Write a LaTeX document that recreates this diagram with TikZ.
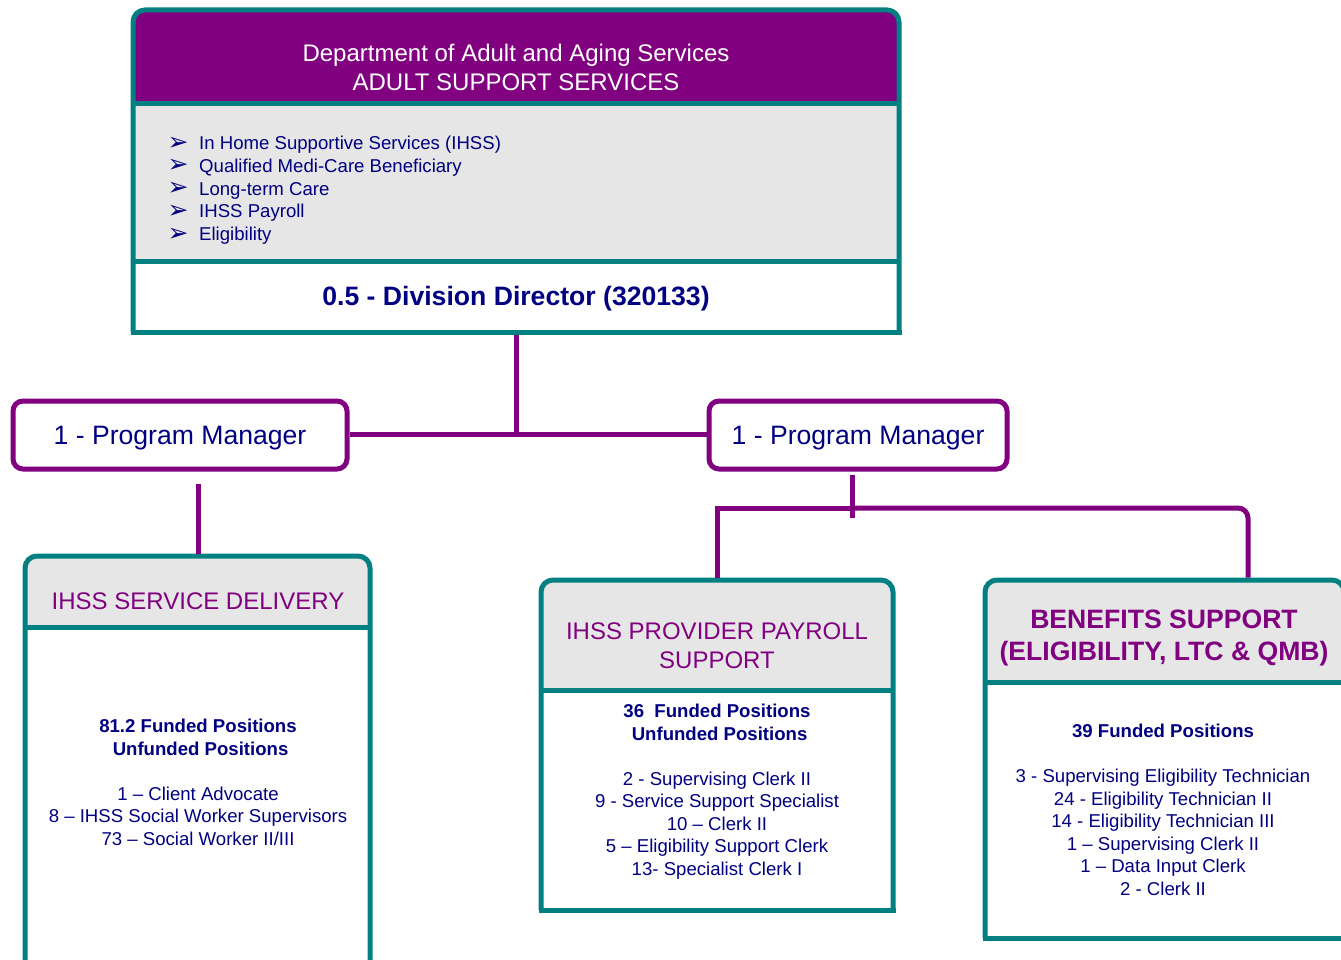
\documentclass[tikz,border=0pt]{standalone}
\usepackage{fontspec}
\setmainfont{Liberation Sans}
\newfontfamily\symfont{DejaVu Sans}
\usetikzlibrary{fit}
\definecolor{purp}{RGB}{128,0,128}
\definecolor{tealc}{RGB}{0,128,128}
\definecolor{grayf}{RGB}{230,230,230}
\definecolor{navy}{RGB}{0,0,128}
\begin{document}
\begin{tikzpicture}[x=1pt,y=-1pt,
  frame/.style={draw=tealc,line width=5pt},
  conn/.style={draw=purp,line width=5pt},
  anchorbox/.style={inner sep=0pt,outer sep=0pt,draw=none},
  body/.style={text=navy,font=\fontsize{18.6}{22.5}\selectfont,anchor=base,inner sep=0pt},
  hdr/.style={text=purp,font=\fontsize{24}{29}\selectfont,anchor=base,inner sep=0pt},
  hdrb/.style={text=purp,font=\fontsize{26.6}{32}\selectfont\bfseries,anchor=base,inner sep=0pt},
  toph/.style={text=white,font=\fontsize{24}{29}\selectfont,anchor=base,inner sep=0pt},
  arrowb/.style={text=navy,font=\symfont\fontsize{25}{28}\selectfont,anchor=center,inner sep=0pt},
  pmbox/.style={draw=purp,line width=5pt,rounded corners=10pt,fill=white,text=navy,
     font=\fontsize{26.6}{32}\selectfont,inner sep=0pt,minimum height=68pt,text depth=0pt},
]
\useasboundingbox (0,0) rectangle (1341,960);
\clip (0,0) rectangle (1341,960);

% ---------- top box ----------
\fill[purp,rounded corners=12pt] (133,10) rectangle (899,60);
\fill[purp] (133,40) rectangle (899,104);
\fill[grayf] (133,104) rectangle (899,261);
\fill[white] (133,261) rectangle (899,332);
\draw[frame] (133,104) -- (899,104);
\draw[frame] (133,261) -- (899,261);
\draw[frame,rounded corners=12pt] (133,332) -- (133,10) -- (899,10) -- (899,332);
\draw[frame,line cap=rect] (133,332) -- (899,332);
\node[anchorbox,fit={(133,10) (899,332)}] (top) {};

\node[toph] (th1) at (516,61.6) {Department of Adult and Aging Services};
\node[toph] (th2) at (516,90.6) {ADULT SUPPORT SERVICES};
\foreach \t [count=\i] in {In Home Supportive Services (IHSS), Qualified Medi-Care Beneficiary, Long-term Care, IHSS Payroll, Eligibility}{
  \pgfmathsetmacro\yy{149.7+22.75*(\i-1)}
  \pgfmathsetmacro\ya{143.5+22.75*(\i-1)}
  \node[arrowb] (ar\i) at (178,\ya) {➢};
  \node[body,anchor=base west] (bl\i) at (199,\yy) {\t};
}
\node[text=navy,font=\fontsize{26.6}{32}\selectfont\bfseries,anchor=base,inner sep=0pt] (dd) at (516,305.5) {0.5 - Division Director (320133)};

% ---------- bottom boxes ----------
% IHSS service delivery
\fill[grayf,rounded corners=12pt] (25,556) rectangle (370,600);
\fill[grayf] (25,580) rectangle (370,627);
\fill[white] (25,627) rectangle (370,985);
\draw[frame] (25,627) -- (370,627);
\draw[frame,rounded corners=12pt] (25,985) -- (25,556) -- (370,556) -- (370,985);
\node[anchorbox,fit={(25,556) (370,985)}] (sd) {};
% provider payroll
\fill[grayf,rounded corners=12pt] (541,580) rectangle (893,630);
\fill[grayf] (541,600) rectangle (893,690);
\fill[white] (541,690) rectangle (893,910);
\draw[frame] (541,690) -- (893,690);
\draw[frame,rounded corners=12pt] (541,910) -- (541,580) -- (893,580) -- (893,910);
\draw[frame,line cap=rect] (541,910) -- (893,910);
\node[anchorbox,fit={(541,580) (893,910)}] (pp) {};
% benefits support
\fill[grayf,rounded corners=12pt] (985,580) rectangle (1344,630);
\fill[grayf] (985,600) rectangle (1344,682);
\fill[white] (985,682) rectangle (1344,938);
\draw[frame] (985,682) -- (1344,682);
\draw[frame,rounded corners=12pt] (985,938) -- (985,580) -- (1344,580) -- (1344,938);
\draw[frame,line cap=rect] (985,938) -- (1344,938);
\node[anchorbox,fit={(985,580) (1344,938)}] (ben) {};

% ---------- program managers ----------
\node[pmbox,minimum width=334pt] (pmL) at (180,435) {1 - Program Manager};
\node[pmbox,minimum width=298pt] (pmR) at (858,435) {1 - Program Manager};

% ---------- connectors ----------
\coordinate (hbus) at (516,434);
\draw[conn,shorten <=2.5pt] (top.south) -- (hbus);
\draw[conn] (pmL.east |- hbus) -- (pmR.west |- hbus);
\coordinate (cL) at (198,484);
\draw[conn,shorten >=2.5pt] (cL) -- (sd.north -| cL);
\coordinate (pRa) at (852,475);
\coordinate (pRb) at (852,518);
\draw[conn] (pRa) -- (pRb);
\coordinate (busR) at (852,508);
\coordinate (bj) at (1248,580);
\draw[conn,shorten <=2.5pt] (pp.north) |- (busR);
\draw[conn,rounded corners=10pt,shorten >=2.5pt] (busR) -| (bj);

% ---------- texts of bottom boxes ----------
\node[hdr] (sdh) at (198,609.6) {IHSS SERVICE DELIVERY};
\foreach \yy/\t [count=\i] in {732.7/{\bfseries 81.2 Funded Positions}, 755.2/{\bfseries \ Unfunded Positions},
   800.2/{1 – Client Advocate}, 822.7/{8 – IHSS Social Worker Supervisors}, 845.2/{73 – Social Worker II/III}}{
  \node[body] (sdt\i) at (198,\yy) {\t};
}
\node[hdr] (pph1) at (717,639.6) {IHSS PROVIDER PAYROLL};
\node[hdr] (pph2) at (717,668.6) {SUPPORT};
\foreach \yy/\t [count=\i] in {717.7/{\bfseries 36\ \ Funded Positions}, 740.2/{\bfseries \ Unfunded Positions},
   785.2/{2 - Supervising Clerk II}, 807.7/{9 - Service Support Specialist}, 830.2/{10 – Clerk II},
   852.7/{5 – Eligibility Support Clerk}, 875.2/{13- Specialist Clerk I}}{
  \node[body] (ppt\i) at (717,\yy) {\t};
}
\node[hdrb] (bh1) at (1164,628.5) {BENEFITS SUPPORT};
\node[hdrb] (bh2) at (1164,660.5) {(ELIGIBILITY, LTC \& QMB)};
\foreach \yy/\t [count=\i] in {737.7/{\bfseries 39 Funded Positions},
   782.7/{3 - Supervising Eligibility Technician}, 805.2/{24 - Eligibility Technician II},
   827.7/{14 - Eligibility Technician III}, 850.2/{1 – Supervising Clerk II},
   872.7/{1 – Data Input Clerk}, 895.2/{2 - Clerk II}}{
  \node[body] (bt\i) at (1163,\yy) {\t};
}
\end{tikzpicture}
\end{document}
